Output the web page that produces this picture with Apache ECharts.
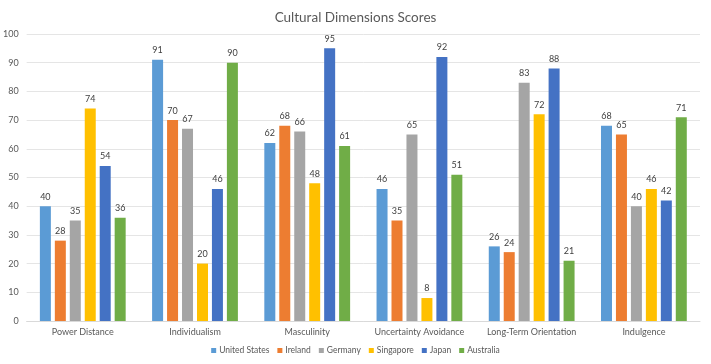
<!DOCTYPE html>
<html><head><meta charset="utf-8">
<script src="https://cdn.jsdelivr.net/npm/echarts@6/dist/echarts.min.js"></script>
<style>html,body{margin:0;padding:0;background:#fff}#c{width:711px;height:364px}</style>
</head><body><div id="c"></div>
<script>
const categories = ["Power Distance","Individualism","Masculinity","Uncertainty Avoidance","Long-Term Orientation","Indulgence"];
const countries = ["United States","Ireland","Germany","Singapore","Japan","Australia"];
const unitedStates = [40,91,62,46,26,68];
const ireland = [28,70,68,35,24,65];
const germany = [35,67,66,65,83,40];
const singapore = [74,20,48,8,72,46];
const japan = [54,46,95,92,88,42];
const australia = [36,90,61,51,21,71];
const colors = ["#5B9BD5","#ED7D31","#A5A5A5","#FFC000","#4472C4","#70AD47"];
const seriesData = [unitedStates, ireland, germany, singapore, japan, australia];

const chart = echarts.init(document.getElementById('c'));
chart.setOption({
  animation:false,
  color: colors,
  title:{text:'Cultural Dimensions Scores',left:'center',top:6,textStyle:{fontFamily:'Lato',fontSize:13.5,fontWeight:'normal',color:'#595959'}},
  grid:{left:26,right:11,top:34,bottom:43},
  legend:{bottom:4,left:'center',itemWidth:5,itemHeight:5,itemGap:8,icon:'rect',textStyle:{fontFamily:'Lato',fontSize:8.5,color:'#595959',padding:[0,0,0,-2]},data:countries},
  xAxis:{type:'category',data:categories,axisTick:{show:false},axisLine:{lineStyle:{color:'#D9D9D9'}},axisLabel:{interval:0,fontFamily:'Lato',fontSize:9,color:'#595959',margin:7}},
  yAxis:{type:'value',min:0,max:100,interval:10,axisLine:{show:false},axisTick:{show:false},splitLine:{lineStyle:{color:'#E5E5E5'}},axisLabel:{fontFamily:'Lato',fontSize:9,color:'#595959',margin:8}},
  series: countries.map((n,i)=>({name:n,type:'bar',data:seriesData[i],barWidth:11,barGap:'36%',
    label:{show:true,position:'top',distance:5,fontFamily:'Lato',fontSize:9,color:'#404040'}}))
});
</script></body></html>
